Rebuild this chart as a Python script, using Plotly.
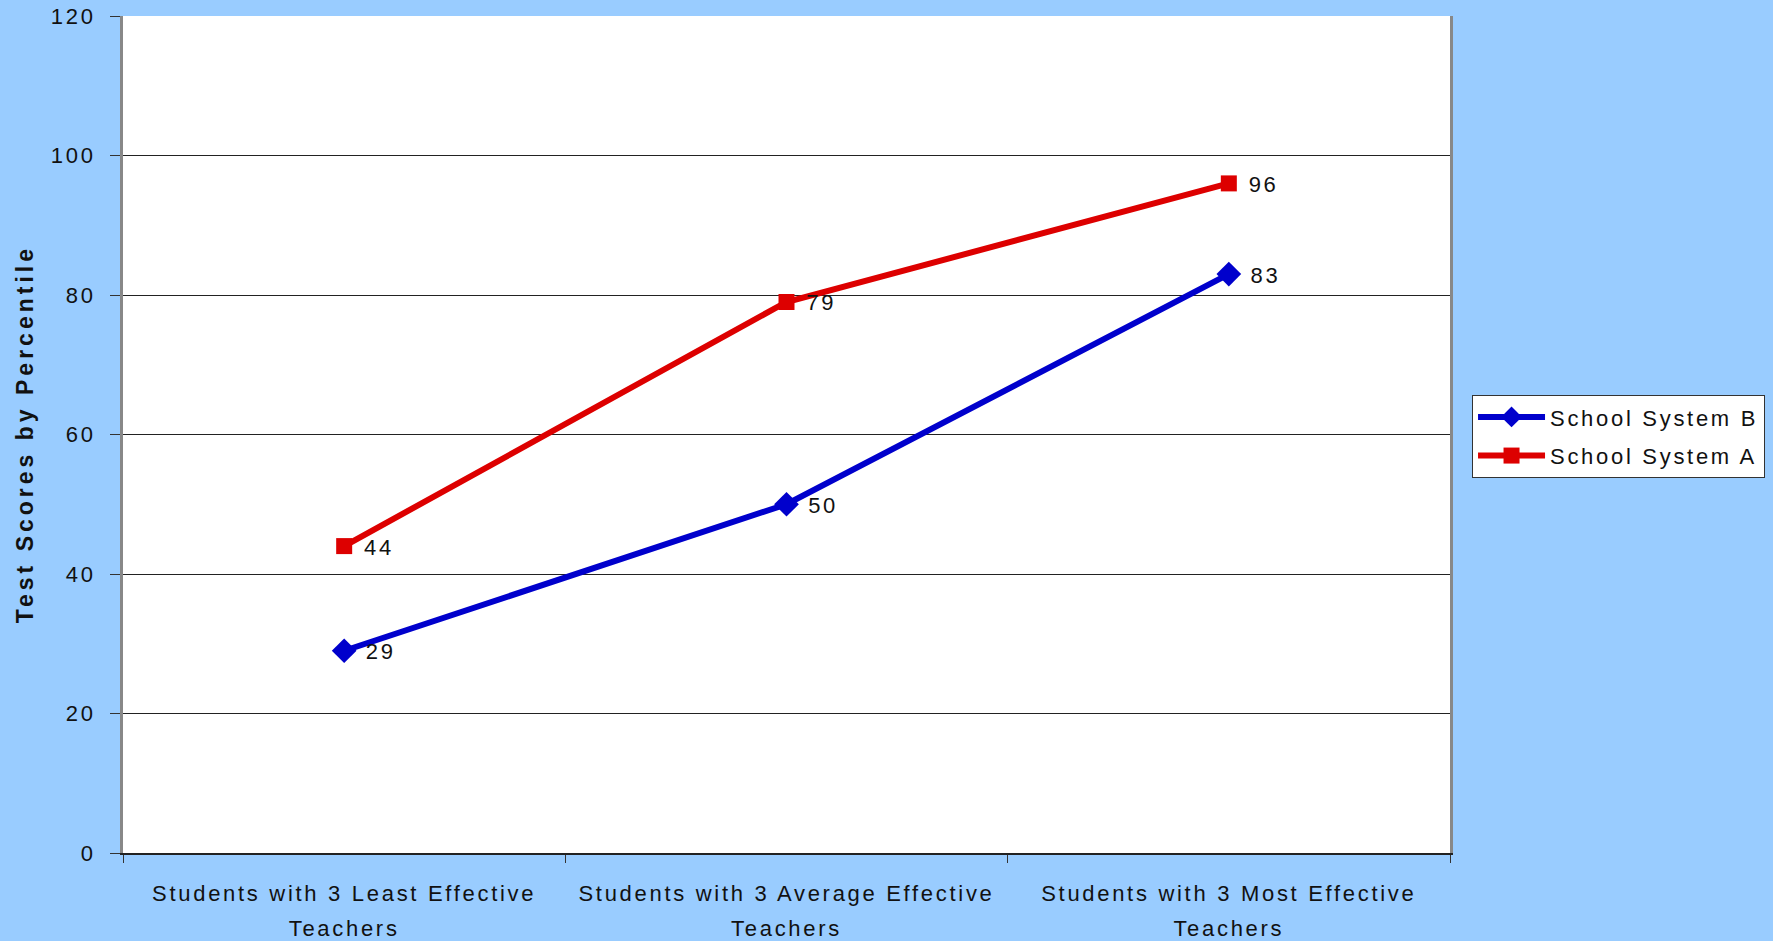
import plotly.graph_objects as go

categories = ["Students with 3 Least Effective<br>Teachers",
              "Students with 3 Average Effective<br>Teachers",
              "Students with 3 Most Effective<br>Teachers"]
system_b = [29, 50, 83]
system_a = [44, 79, 96]

FONT = "Liberation Sans, Arial, sans-serif"
FS = 22

fig = go.Figure()
fig.add_trace(go.Scatter(
    x=categories, y=system_b, name="School System B", legendgroup="b",
    mode="lines+markers+text",
    line=dict(color="#0000CC", width=6),
    marker=dict(symbol="diamond", size=19, color="#0000CC"),
    text=[" " + str(v) for v in system_b], textposition="middle right",
    textfont=dict(family=FONT, size=FS, color="#111111"),
))
fig.add_trace(go.Scatter(
    x=categories, y=system_a, name="School System A", legendgroup="a",
    mode="lines+markers+text",
    line=dict(color="#DD0000", width=6),
    marker=dict(symbol="square", size=16, color="#DD0000"),
    text=[" " + str(v) for v in system_a], textposition="middle right",
    textfont=dict(family=FONT, size=FS, color="#111111"),
))

fig.add_annotation(
    text="<b>Test Scores by Percentile</b>", textangle=-90,
    xref="paper", yref="paper", x=-0.074, y=0.5,
    xanchor="center", yanchor="middle", showarrow=False,
    font=dict(family=FONT, size=23, color="#111111"),
)

fig.update_layout(
    width=1773, height=941,
    paper_bgcolor="#99CCFF", plot_bgcolor="#FFFFFF",
    margin=dict(l=123, r=323, t=16, b=88, autoexpand=False),
    font=dict(family=FONT, size=FS, color="#111111"),
    showlegend=True,
    legend=dict(
        x=1.0166, y=0.547, xanchor="left", yanchor="top",
        bgcolor="#FFFFFF", bordercolor="#333333", borderwidth=1,
        font=dict(family=FONT, size=FS, color="#111111"),
        traceorder="grouped", tracegroupgap=7, itemwidth=67,
    ),
    xaxis=dict(
        type="category", range=[-0.5, 2.5], automargin=False,
        showgrid=False, tickson="boundaries",
        ticks="outside", ticklen=8, tickcolor="#333333",
        ticklabelstandoff=20,
        showline=True, linecolor="#222222", linewidth=2,
        zeroline=False,
        tickfont=dict(family=FONT, size=FS, color="#111111"),
    ),
    yaxis=dict(
        range=[0, 120], dtick=20, automargin=False,
        showgrid=True, gridcolor="#222222", gridwidth=1,
        ticks="outside", ticklen=10, tickcolor="#333333",
        ticklabelstandoff=10,
        showline=True, linecolor="#888888", linewidth=3,
        mirror=True, zeroline=False,
        tickfont=dict(family=FONT, size=FS, color="#111111"),
    ),
)

post = """
document.body.style.margin = '0';
var gd = document.getElementById('{plot_id}');
gd.querySelectorAll('.xtick text, .ytick text, .textpoint text, .legendtext').forEach(function(t){
  t.style.letterSpacing = '2.7px';
});
gd.querySelectorAll('.annotation-text').forEach(function(t){
  t.style.letterSpacing = '4px';
});
gd.querySelectorAll('.xtick text tspan.line').forEach(function(s, i){
  if (s.getAttribute('dy') && s.getAttribute('dy') !== '0em') { s.setAttribute('dy', '1.55em'); }
});
gd.querySelectorAll('.textpoint text').forEach(function(t){
  var y = parseFloat(t.getAttribute('y'));
  if (!isNaN(y)) { t.setAttribute('y', y + 3); }
});
gd.querySelectorAll('.legend [clip-path]').forEach(function(e){
  e.removeAttribute('clip-path');
});
var bg = gd.querySelector('.legend rect.bg');
if (bg) {
  var bl = bg.getBoundingClientRect().left;
  var mx = 0;
  gd.querySelectorAll('.legendtext').forEach(function(t){
    var r = t.getBoundingClientRect().right;
    if (r > mx) { mx = r; }
  });
  bg.setAttribute('width', Math.round(mx - bl + 6));
}
"""

fig.write_html("out.html", post_script=post, config={"displayModeBar": False})
